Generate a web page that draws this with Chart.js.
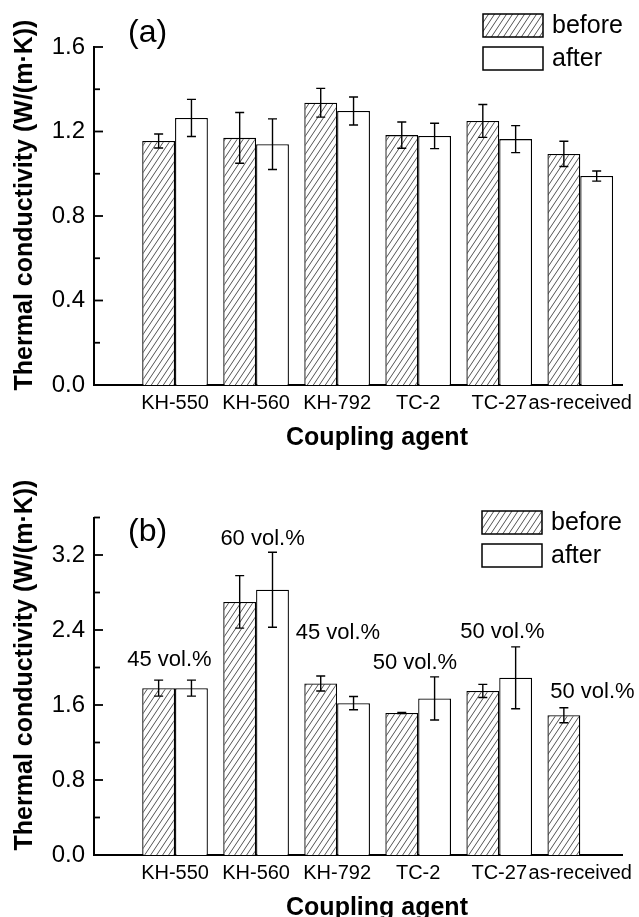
<!DOCTYPE html>
<html><head><meta charset="utf-8">
<script src="https://cdn.jsdelivr.net/npm/chart.js@4"></script>
<style>
html,body{margin:0;padding:0;background:#fff;overflow:hidden;width:639px;height:917px;position:relative;}
canvas{position:absolute;left:0;}
#ca{top:0}
#cb{top:460px}
</style></head><body>
<canvas id="ca" width="639" height="460"></canvas>
<canvas id="cb" width="639" height="470"></canvas>
<script>
// ---- data ----
const categories = ['KH-550','KH-560','KH-792','TC-2','TC-27','as-received'];
const seriesNames = ['before','after'];
const xTitle = 'Coupling agent';
const yTitle = 'Thermal conductivity (W/(m·K))';

const beforeA    = [1.155, 1.17, 1.336, 1.183, 1.25, 1.094];
const beforeErrA = [0.033, 0.12, 0.068, 0.062, 0.078, 0.06];
const afterA     = [1.264, 1.14, 1.297, 1.179, 1.164, 0.989];
const afterErrA  = [0.088, 0.12, 0.066, 0.06, 0.064, 0.024];

const beforeB    = [1.78, 2.70, 1.83, 1.515, 1.75, 1.49];
const beforeErrB = [0.085, 0.28, 0.08, 0.005, 0.07, 0.08];
const afterB     = [1.78, 2.83, 1.62, 1.67, 1.89, null];
const afterErrB  = [0.085, 0.40, 0.07, 0.23, 0.33, null];

const volLabels = ['45 vol.%','60 vol.%','45 vol.%','50 vol.%','50 vol.%','50 vol.%'];
const volLabelX = [0.93, 2.08, 3.01, 3.96, 5.04, 6.15];
const volLabelY = [2.08, 3.37, 2.37, 2.05, 2.38, 1.74];

const yLabelledA = [0, 0.4, 0.8, 1.2, 1.6];
const yLabelledB = [0, 0.8, 1.6, 2.4, 3.2];

const FAM = 'Liberation Sans, Arial, Helvetica, sans-serif';

function makeHatch(ctx) {
  const c = document.createElement('canvas');
  const w = 6, h = 9;
  c.width = w; c.height = h;
  const g = c.getContext('2d');
  g.fillStyle = '#fff'; g.fillRect(0, 0, w, h);
  g.strokeStyle = '#404040'; g.lineWidth = 0.9;
  for (const dx of [-w, 0, w]) {
    g.beginPath(); g.moveTo(dx, h); g.lineTo(dx + w, 0); g.stroke();
  }
  return ctx.createPattern(c, 'repeat');
}

const errorBars = {
  id: 'errorBars',
  afterDatasetsDraw(chart) {
    const ctx = chart.ctx, ys = chart.scales.y;
    ctx.save();
    ctx.strokeStyle = '#000'; ctx.lineWidth = 1.4;
    chart.data.datasets.forEach((ds, di) => {
      const meta = chart.getDatasetMeta(di);
      meta.data.forEach((bar, i) => {
        const v = ds.data[i].y, e = ds.errors[i];
        if (v == null || e == null) return;
        const x = bar.x, y1 = ys.getPixelForValue(v + e), y2 = ys.getPixelForValue(v - e);
        ctx.beginPath();
        ctx.moveTo(x, y1); ctx.lineTo(x, y2);
        ctx.moveTo(x - 4.5, y1); ctx.lineTo(x + 4.5, y1);
        ctx.moveTo(x - 4.5, y2); ctx.lineTo(x + 4.5, y2);
        ctx.stroke();
      });
    });
    ctx.restore();
  }
};

const innerTicks = {
  id: 'innerTicks',
  afterDraw(chart) {
    const ctx = chart.ctx, ys = chart.scales.y, left = chart.chartArea.left;
    ctx.save();
    ctx.strokeStyle = '#000'; ctx.lineWidth = 1.8;
    ys.ticks.forEach(t => {
      if (Math.abs(t.value) < 1e-9) return;
      const p = ys.getPixelForValue(t.value);
      const len = (t.label && t.label !== '') ? 9 : 6;
      ctx.beginPath(); ctx.moveTo(left, p); ctx.lineTo(left + len, p); ctx.stroke();
    });
    ctx.restore();
  }
};

const panelDecor = {
  id: 'panelDecor',
  afterDraw(chart, args, opts) {
    const ctx = chart.ctx;
    ctx.save();
    ctx.fillStyle = '#000';
    // axis titles
    ctx.font = 'bold 25px ' + FAM;
    ctx.textAlign = 'center'; ctx.textBaseline = 'middle';
    ctx.fillText(xTitle, opts.xtX, opts.xtY);
    ctx.save();
    ctx.translate(opts.ytX, opts.ytY);
    ctx.rotate(-Math.PI / 2);
    ctx.fillText(yTitle, 0, 0);
    ctx.restore();
    // panel tag
    ctx.font = '32px ' + FAM;
    ctx.textAlign = 'left'; ctx.textBaseline = 'middle';
    ctx.fillText(opts.tag, opts.tagX, opts.tagY);
    // legend
    chart.data.datasets.forEach((ds, i) => {
      const bx = opts.legX, by = opts.legY + i * 33;
      ctx.fillStyle = ds.backgroundColor;
      ctx.fillRect(bx, by, 60, 23);
      ctx.strokeStyle = '#000'; ctx.lineWidth = 1.5;
      ctx.strokeRect(bx, by, 60, 23);
      ctx.fillStyle = '#000';
      ctx.font = '25px ' + FAM;
      ctx.textAlign = 'left'; ctx.textBaseline = 'middle';
      ctx.fillText(ds.label, bx + 69, by + 12);
    });
    // annotations
    if (opts.notes) {
      const xs = chart.scales.x, ys = chart.scales.y;
      ctx.font = '22px ' + FAM;
      ctx.textAlign = 'center'; ctx.textBaseline = 'middle';
      volLabels.forEach((t, i) => {
        ctx.fillText(t, xs.getPixelForValue(volLabelX[i]), ys.getPixelForValue(volLabelY[i]));
      });
    }
    ctx.restore();
  }
};

function build(id, cfg) {
  const ctx = document.getElementById(id).getContext('2d');
  const hatch = makeHatch(ctx);
  const toPts = arr => arr.map((v, i) => ({ x: i + 1, y: v }));
  return new Chart(ctx, {
    type: 'bar',
    data: {
      datasets: [
        { label: seriesNames[0], data: toPts(cfg.before), errors: cfg.beforeErr,
          backgroundColor: hatch, borderColor: '#000', borderWidth: 1.3 },
        { label: seriesNames[1], data: toPts(cfg.after), errors: cfg.afterErr,
          backgroundColor: '#fff', borderColor: '#000', borderWidth: 1.3 }
      ]
    },
    options: {
      responsive: false, animation: false, devicePixelRatio: 1,
      categoryPercentage: 0.81, barPercentage: 1.0,
      layout: { padding: { top: cfg.padTop, right: 13, bottom: cfg.padBottom, left: 0 } },
      plugins: {
        legend: { display: false }, tooltip: { enabled: false },
        panelDecor: cfg.decor
      },
      scales: {
        x: {
          type: 'linear', min: 0, max: 6.52, offset: false,
          grid: { display: false, drawTicks: false },
          border: { display: true, color: '#000', width: 2 },
          afterBuildTicks: s => { s.ticks = categories.map((_, i) => ({ value: i + 1 })); },
          afterFit: s => { s.height = cfg.xH; },
          ticks: {
            autoSkip: false, maxRotation: 0, minRotation: 0, padding: 6, color: '#000',
            font: { family: FAM, size: 20 },
            callback: v => categories[Math.round(v) - 1] ?? ''
          },
          title: { display: false }
        },
        y: {
          min: 0, max: cfg.yMax,
          grid: { display: false, drawTicks: false },
          border: { display: true, color: '#000', width: 2 },
          afterFit: s => { s.width = 94; },
          ticks: {
            stepSize: cfg.step, padding: 9, color: '#000',
            font: { family: FAM, size: 24 },
            callback: v => cfg.labelled.some(t => Math.abs(t - v) < 1e-6) ? Number(v).toFixed(1) : ''
          },
          title: { display: false }
        }
      }
    },
    plugins: [errorBars, innerTicks, panelDecor]
  });
}

build('ca', {
  before: beforeA, beforeErr: beforeErrA, after: afterA, afterErr: afterErrA,
  yMax: 1.6, step: 0.2, labelled: yLabelledA,
  padTop: 47, padBottom: 8.6, xH: 66.4,
  decor: { tag: '(a)', tagX: 128, tagY: 33, legX: 483, legY: 14, notes: false,
           xtX: 377, xtY: 438, ytX: 25, ytY: 205 }
});
build('cb', {
  before: beforeB, beforeErr: beforeErrB, after: afterB, afterErr: afterErrB,
  yMax: 3.6, step: 0.4, labelled: yLabelledB,
  padTop: 57.5, padBottom: 7.6, xH: 67.4,
  decor: { tag: '(b)', tagX: 128, tagY: 72, legX: 482, legY: 51, notes: true,
           xtX: 377, xtY: 448, ytX: 25, ytY: 205 }
});
</script>
</body></html>
